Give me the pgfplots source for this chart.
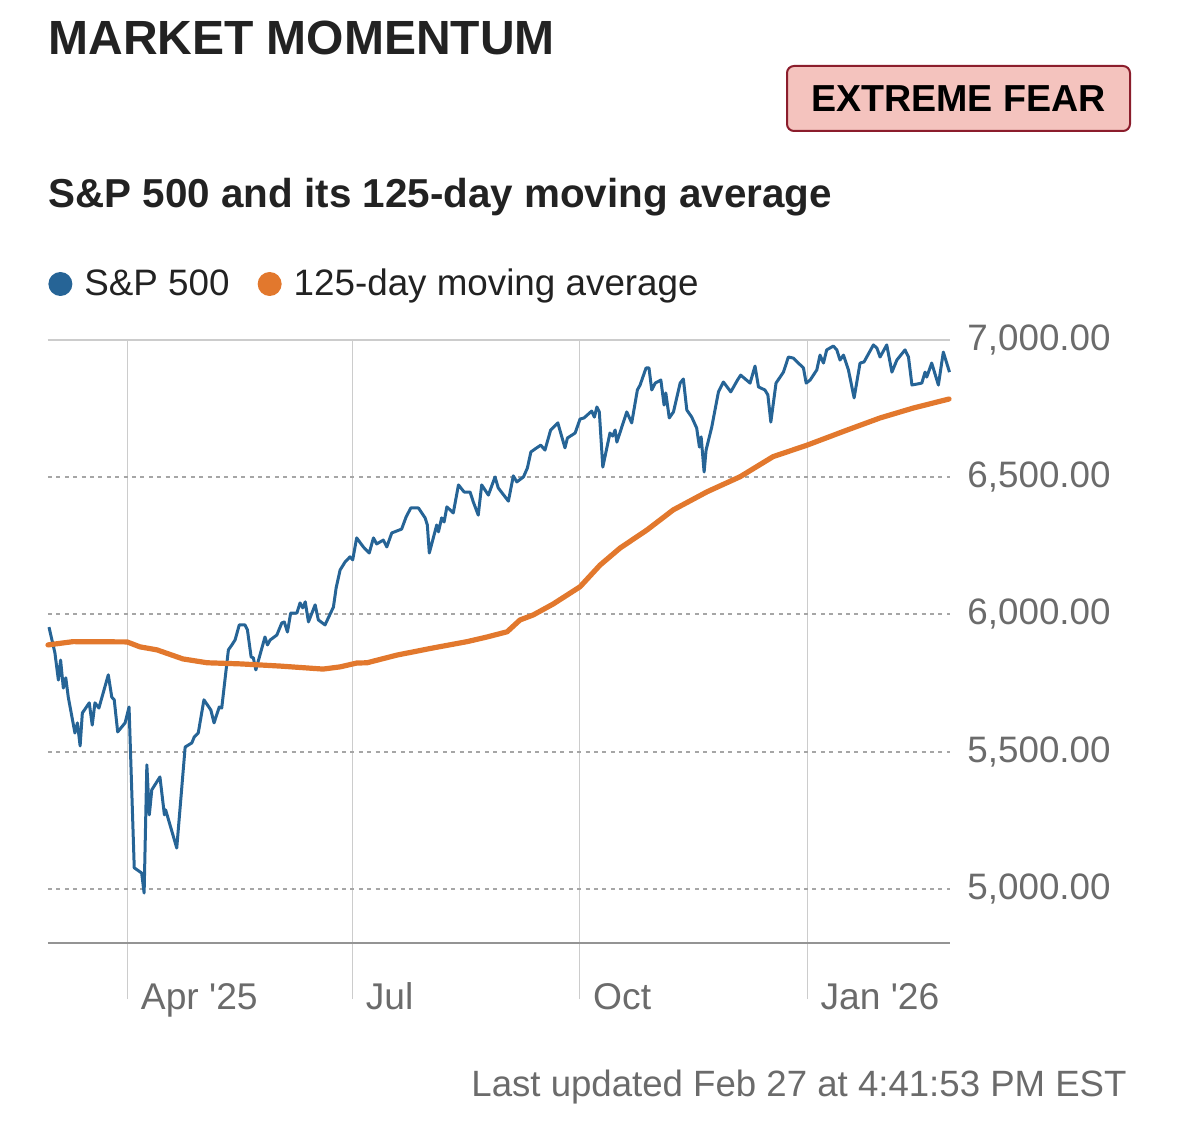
\documentclass[border=0pt]{standalone}
\usepackage{pgfplots}
\pgfplotsset{compat=1.18}
\usepackage{pgfplotstable}
\usepackage{fontspec}
\setmainfont{Liberation Sans}
\definecolor{mblue}{HTML}{266496}
\definecolor{morange}{HTML}{E2782D}
\definecolor{txt}{HTML}{222222}
\definecolor{gtxt}{HTML}{6B6B6B}
\definecolor{badgefill}{HTML}{F4C3BE}
\definecolor{badgedraw}{HTML}{8B1D2C}

\pgfplotstableread{
day val
1.2 5954
3.6 5860
5.0 5761
5.9 5834
7.0 5732
8.0 5769
9.0 5699
11.7 5568
12.7 5605
13.8 5521
14.7 5641
17.5 5678
18.7 5597
19.8 5678
21.4 5659
25.2 5780
26.6 5699
27.6 5689
29.0 5572
32.0 5605
33.6 5663
35.7 5077
38.7 5058
39.7 4985
40.8 5452
41.8 5270
42.8 5361
46.1 5408
47.9 5270
48.4 5288
52.9 5149
56.3 5517
59.0 5532
60.0 5554
61.6 5568
63.9 5689
66.7 5652
68.0 5605
70.1 5663
71.1 5659
73.8 5871
75.2 5889
76.5 5907
78.2 5962
80.5 5962
81.5 5944
83.0 5845
83.9 5842
84.9 5798
88.6 5918
89.6 5889
90.7 5907
93.4 5925
95.4 5969
96.4 5973
97.7 5936
99.0 6005
101.5 6005
102.8 6042
103.9 6024
104.9 6046
106.2 5973
108.9 6035
110.2 5980
112.9 5962
116.3 6027
117.4 6097
119.0 6162
121.0 6191
123.0 6210
124.1 6199
125.7 6279
128.4 6246
130.8 6224
132.5 6279
133.8 6257
136.5 6271
137.9 6246
139.9 6297
143.9 6311
145.7 6355
147.6 6388
150.7 6388
153.4 6352
154.3 6326
155.1 6224
158.1 6326
158.8 6301
160.1 6352
161.1 6337
162.2 6392
164.8 6370
166.9 6472
169.2 6446
171.6 6446
172.9 6410
174.9 6362
176.3 6472
179.0 6435
181.7 6501
183.0 6461
187.1 6413
189.1 6505
190.5 6483
193.2 6501
194.8 6534
196.2 6592
197.9 6603
200.2 6617
201.9 6599
204.2 6672
207.1 6698
210.0 6607
211.0 6643
214.1 6661
216.1 6712
217.7 6716
220.8 6741
221.9 6719
222.9 6756
223.9 6738
225.3 6537
228.2 6661
229.3 6650
230.3 6672
231.0 6628
235.0 6738
237.0 6698
239.3 6818
240.4 6836
242.8 6898
244.0 6898
245.1 6818
246.5 6843
248.8 6854
250.1 6763
250.8 6807
252.2 6716
253.9 6738
256.6 6843
257.9 6858
259.3 6745
261.3 6719
263.3 6679
264.4 6610
265.1 6647
266.3 6519
267.1 6599
269.4 6683
272.1 6811
274.1 6847
277.1 6811
279.8 6854
281.1 6872
284.9 6843
286.9 6905
288.3 6829
290.9 6818
292.1 6800
293.3 6701
295.4 6843
298.4 6883
300.4 6938
302.4 6934
306.5 6898
307.6 6843
309.2 6854
311.9 6891
313.2 6945
314.6 6916
315.9 6964
318.6 6978
320.0 6964
321.3 6927
322.7 6945
324.7 6891
327.0 6789
329.4 6916
331.0 6920
334.8 6982
336.2 6971
337.5 6938
340.2 6982
342.3 6883
344.3 6927
347.6 6964
349.0 6938
350.4 6836
354.4 6843
355.7 6883
356.4 6865
358.4 6916
361.1 6836
363.1 6956
365.6 6883
}\spx

\pgfplotstableread{
day val
0.8 5889
10.9 5901
32.8 5900
38.0 5882
44.9 5871
55.4 5838
65.2 5824
78.5 5820
94.7 5812
112.1 5801
119.0 5809
125.7 5823
129.9 5824
142.0 5852
156.6 5878
170.4 5901
178.5 5918
186.6 5937
191.8 5980
197.1 5998
205.2 6038
216.1 6101
224.2 6180
232.3 6242
243.2 6308
253.8 6381
267.5 6447
280.9 6502
294.2 6575
308.0 6617
324.2 6672
337.5 6716
350.9 6752
365.4 6785
}\mavg

\begin{document}
\begin{tikzpicture}
\path[use as bounding box] (0pt,0pt) rectangle (589.5pt,-561pt);

% titles
\node[anchor=base west, inner sep=0pt, text=txt, font=\fontsize{24}{28}\selectfont\bfseries] at (24pt,-27.5pt) {MARKET MOMENTUM};
\node[draw=badgedraw, fill=badgefill, line width=1pt, rounded corners=3.5pt,
      minimum width=171.5pt, minimum height=32.5pt, inner sep=0pt,
      font=\fontsize{18.8}{22}\selectfont\bfseries, text=black] at (479.25pt,-49.25pt) {EXTREME FEAR};
\node[anchor=base west, inner sep=0pt, text=txt, font=\fontsize{20.2}{24}\selectfont\bfseries] at (24pt,-104pt) {S\&P 500 and its 125-day moving average};

\begin{axis}[
  at={(24pt,-471.5pt)}, anchor=south west,
  scale only axis, width=451pt, height=301.5pt,
  xmin=0.8, xmax=365.8, ymin=4803, ymax=7000,
  axis x line*=bottom, axis y line*=right,
  x axis line style={-, draw=black!42, line width=1pt},
  y axis line style={draw=none},
  xtick={33,124,216,308},
  xticklabels={Apr \textquotesingle25, Jul, Oct, Jan \textquotesingle26},
  ytick={5000,5500,6000,6500,7000},
  xtick align=outside, major tick length=28pt,
  xtick style={draw=black!20, line width=0.6pt},
  ytick style={draw=none},
  xmajorgrids, ymajorgrids,
  major x grid style={draw=black!20, line width=0.6pt},
  major y grid style={draw=black!35, line width=1pt, dash pattern=on 2pt off 2.2pt},
  xticklabel style={anchor=base west, inner sep=0pt, xshift=6.5pt, yshift=-5pt, text=gtxt, font=\fontsize{18.6}{22}\selectfont},
  yticklabel style={anchor=west, inner sep=0pt, xshift=8.5pt, text=gtxt, font=\fontsize{18.4}{22}\selectfont},
  yticklabel={\pgfmathprintnumber[fixed, fixed zerofill, precision=2, 1000 sep={,}, assume math mode=true]{\tick}},
  legend columns=-1,
  legend image code/.code={\fill[#1, draw=none] (6pt,0pt) circle (6pt);},
  legend style={at={(axis description cs:0,1)}, anchor=west, yshift=28pt, xshift=0pt,
     draw=none, fill=none, inner sep=0pt, font=\fontsize{18.4}{22}\selectfont, text=txt,
     nodes={inner sep=0pt},
     /tikz/every odd column/.append style={column sep=6pt},
     /tikz/every even column/.append style={column sep=14pt}},
  legend cell align=left,
  clip=false,
]
\draw[black!20, line width=0.8pt] (rel axis cs:0,1) -- (rel axis cs:1,1);
\addplot[color=mblue, line width=1.5pt, line join=round, no markers] table[x=day, y=val] {\spx};
\addlegendentry{S\&P 500}
\addplot[color=morange, line width=2.6pt, line join=round, line cap=round, no markers] table[x=day, y=val] {\mavg};
\addlegendentry{125-day moving average}
\end{axis}

\node[anchor=base east, inner sep=0pt, text=gtxt, font=\fontsize{18.3}{22}\selectfont] at (563.5pt,-548pt) {Last updated Feb 27 at 4:41:53 PM EST};
\end{tikzpicture}
\end{document}
